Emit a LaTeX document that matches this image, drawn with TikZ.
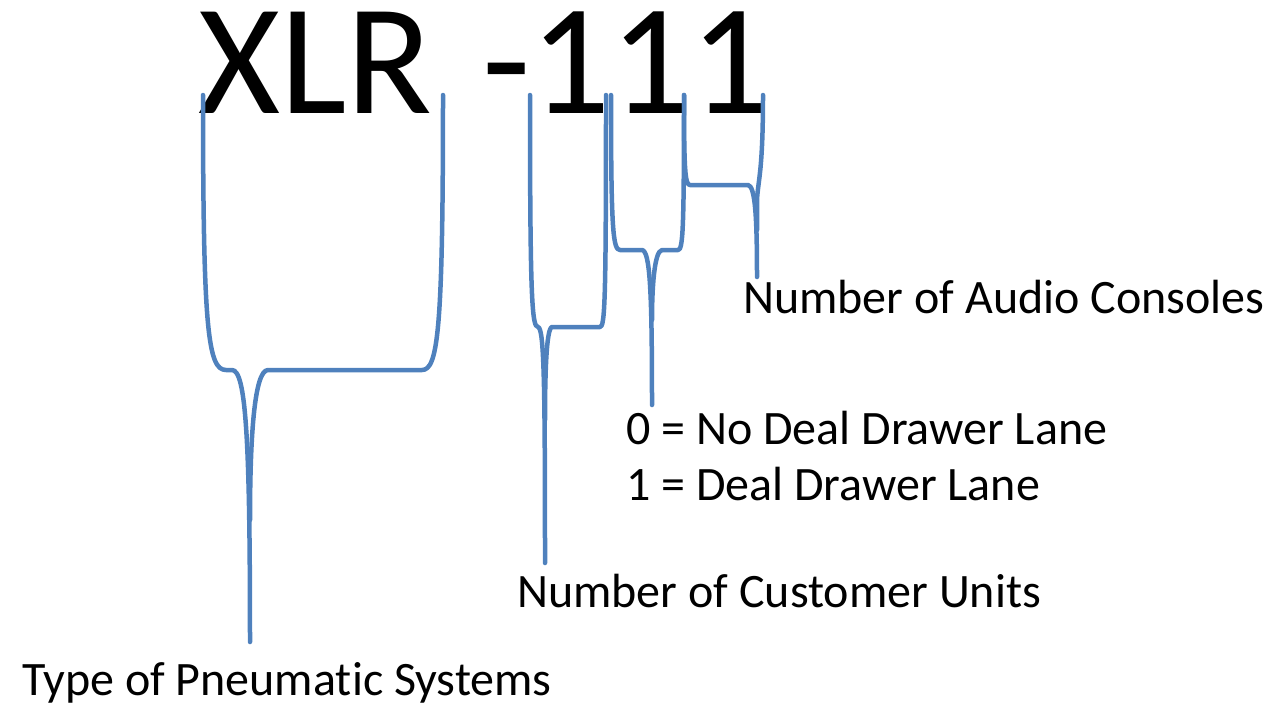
\documentclass[tikz,border=0pt]{standalone}
\usepackage{fontspec}
\setmainfont[Ligatures=NoCommon]{Carlito}
\definecolor{bracec}{RGB}{79,129,189}
\tikzset{
  bracel/.style={draw=bracec, line width=4.5pt, line cap=round, line join=round},
  lbl/.style={anchor=base west, inner sep=0pt, font=\fontsize{48}{54}\selectfont},
  big/.style={anchor=base west, inner sep=0pt, font=\fontsize{158}{160}\selectfont},
}
\begin{document}
\begin{tikzpicture}[x=1pt,y=-1pt]
\useasboundingbox (0,0) rectangle (1274,707);
\node[big] (code1) at (198,113) {XLR};
\node[big] (code2) at (482,113) {-111};

% brace 1: XLR
\coordinate (t1) at (250,642);
\draw[bracel] (203,95) .. controls (203,330) and (208,370) .. (226,370) -- (232,370)
  .. controls (246,370) and (250,440) .. (t1);
\draw[bracel] (443,95) .. controls (443,330) and (438,370) .. (422,370) -- (268,370)
  .. controls (254,370) and (250,440) .. (250,520);

% brace 2: -
\coordinate (t2) at (545,563);
\draw[bracel] (530,95) .. controls (530,300) and (532,327) .. (538,327)
  .. controls (544,328) and (545,380) .. (t2);
\draw[bracel] (606,95) .. controls (606,300) and (605,327) .. (600,327) -- (552,327)
  .. controls (546,328) and (545,380) .. (545,420);

% brace 3: first 1
\coordinate (t3) at (652,405);
\draw[bracel] (611,95) .. controls (611,230) and (613,250) .. (620,250) -- (642,250)
  .. controls (650,251) and (652,290) .. (t3);
\draw[bracel] (684,95) .. controls (684,230) and (683,250) .. (678,250) -- (662,250)
  .. controls (654,251) and (652,290) .. (652,320);

% brace 4: last two 1s
\coordinate (t4) at (757,277);
\draw[bracel] (684,95) .. controls (684,170) and (685,185) .. (690,185) -- (748,185)
  .. controls (755,186) and (757,215) .. (t4);
\draw[bracel] (763,95) .. controls (763,172) and (758,180) .. (757,200) -- (757,230);

\node[lbl] (audio) at (743,313) {Number of Audio Consoles};
\node[lbl] (deal0) at (626,444) {0 = No Deal Drawer Lane};
\node[lbl] (deal1) at (626,500) {1 = Deal Drawer Lane};
\node[lbl] (cust) at (517,607) {Number of Customer Units};
\node[lbl] (pneu) at (22,695) {Type of Pneumatic Systems};
\end{tikzpicture}
\end{document}
